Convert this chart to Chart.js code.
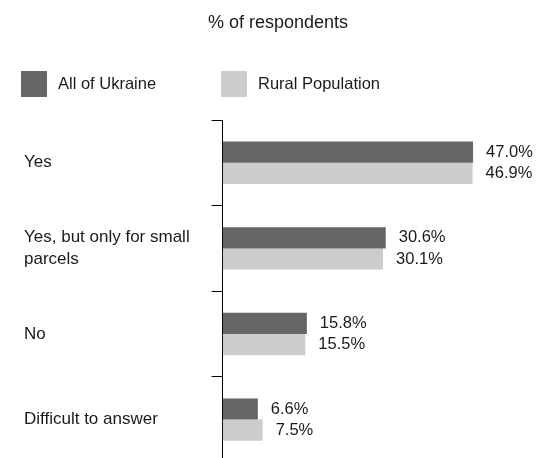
<!DOCTYPE html>
<html>
<head>
<meta charset="utf-8">
<script src="https://cdn.jsdelivr.net/npm/chart.js@4"></script>
<style>
  html, body { margin: 0; padding: 0; background: #fff; overflow: hidden; }
  #wrap { width: 539px; height: 473px; }
</style>
</head>
<body>
<div id="wrap"><canvas id="chart1" width="539" height="473"></canvas></div>
<script>
const categories = [
  'Yes',
  ['Yes, but only for small', 'parcels'],
  'No',
  'Difficult to answer'
];
const seriesNames = ['All of Ukraine', 'Rural Population'];
const allUkraine = [47.0, 30.6, 15.8, 6.6];
const ruralPopulation = [46.9, 30.1, 15.5, 7.5];
const titleText = '% of respondents';

const FONT = '"Liberation Sans", Arial, Helvetica, sans-serif';
const TEXT = '#1a1a1a';

// title, legend and the value labels next to each bar
const decorations = {
  id: 'decorations',
  afterDatasetsDraw(chart) {
    const ctx = chart.ctx;
    ctx.save();
    ctx.fillStyle = TEXT;
    ctx.textBaseline = 'middle';

    ctx.font = '18px ' + FONT;
    ctx.textAlign = 'center';
    ctx.fillText(titleText, 278, 23);

    ctx.font = '16.5px ' + FONT;
    ctx.textAlign = 'left';
    const legendX = [21, 221];
    chart.data.datasets.forEach((ds, i) => {
      ctx.fillStyle = ds.backgroundColor;
      ctx.fillRect(legendX[i], 71, 26, 26);
      ctx.fillStyle = TEXT;
      ctx.fillText(ds.label, legendX[i] + 37, 84);
    });

    chart.data.datasets.forEach((ds, i) => {
      const meta = chart.getDatasetMeta(i);
      meta.data.forEach((bar, j) => {
        ctx.fillText(ds.data[j].toFixed(1) + '%', bar.x + 13, bar.y);
      });
    });
    ctx.restore();
  }
};

new Chart(document.getElementById('chart1'), {
  type: 'bar',
  data: {
    labels: categories,
    datasets: [
      { label: seriesNames[0], data: allUkraine, backgroundColor: '#666666' },
      { label: seriesNames[1], data: ruralPopulation, backgroundColor: '#cccccc' }
    ]
  },
  options: {
    indexAxis: 'y',
    responsive: false,
    animation: false,
    events: [],
    layout: { padding: { top: 120, left: 24, right: 23.3, bottom: 0 } },
    datasets: { bar: { categoryPercentage: 0.495, barPercentage: 1 } },
    plugins: {
      legend: { display: false },
      title: { display: false },
      tooltip: { enabled: false }
    },
    scales: {
      x: { display: false, min: 0, max: 55 },
      y: {
        afterFit(scale) { scale.width = 198.7; },
        border: { display: true, color: '#000', width: 1 },
        grid: {
          offset: true,
          drawOnChartArea: false,
          drawTicks: true,
          tickLength: 11,
          color: '#000'
        },
        ticks: {
          crossAlign: 'far',
          padding: 0,
          color: TEXT,
          font: { family: FONT, size: 17, lineHeight: 1.25 }
        }
      }
    }
  },
  plugins: [decorations]
});
</script>
</body>
</html>
